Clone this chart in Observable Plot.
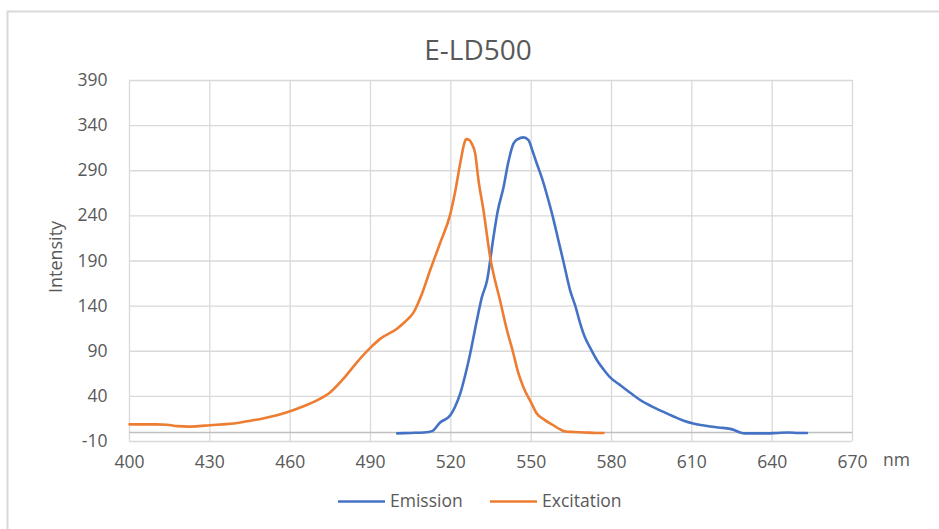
<!DOCTYPE html>
<html>
<head>
<meta charset="utf-8">
<script src="https://cdn.jsdelivr.net/npm/d3@7"></script>
<script src="https://cdn.jsdelivr.net/npm/@observablehq/plot@0.6"></script>
<style>
  html, body { margin: 0; padding: 0; background: #fff; }
  #chart { position: relative; width: 939px; height: 529px; overflow: hidden; }
</style>
</head>
<body>
<div id="chart"></div>
<script>
// ---- data ----
const title = "E-LD500";
const yLabel = "Intensity";
const xUnit = "nm";
const seriesNames = ["Emission", "Excitation"];
const seriesColors = ["#4472C4", "#ED7D31"];
const xTicks = [400, 430, 460, 490, 520, 550, 580, 610, 640, 670];
const yTicks = [-10, 40, 90, 140, 190, 240, 290, 340, 390];

const emissionNm = [500, 505, 510, 513, 516, 519.8, 521.5, 523.5, 525.5, 527.2, 529.7, 531.6, 533.5, 535.9, 537.5, 539.7, 541.5, 543.4, 545, 547.1, 549, 550.5, 552.1, 554, 556, 558, 560, 562, 564.6, 566.5, 568.3, 570, 572, 575, 577, 579.5, 583, 587, 590.7, 595, 600, 603, 607, 610.5, 615, 620, 624.3, 626, 628, 630, 634, 638, 642, 646, 650, 653];
const emissionVal = [-1, -0.5, 0, 1.5, 11, 19, 28, 43, 65, 87, 124, 150, 168, 216, 245, 272, 300, 320, 325, 327, 324, 312, 298, 282, 262, 240, 215, 190, 157, 140, 121, 106, 94, 78, 70, 61, 53, 44, 36, 29, 22, 18, 13, 10, 7.5, 5.5, 4, 2.5, 0, -1, -1, -1, -0.5, 0, -0.5, -0.5];

const excitationNm = [400, 405, 410, 414, 418, 422, 426, 430, 435, 439, 444, 449, 455, 460, 465, 470, 475, 480, 485, 490, 493.7, 499.9, 503, 506.1, 509, 512.3, 516, 519.8, 521.5, 523.5, 525, 525.7, 527, 527.8, 529.1, 530.3, 532.2, 534.7, 538.4, 541, 543.4, 545, 547.1, 550, 552.1, 555, 558.3, 560.5, 562.7, 566, 570, 574, 577];
const excitationVal = [9, 9, 9, 8.5, 7, 6.5, 7, 8, 9, 10, 12.5, 15, 19, 23.5, 29, 35.5, 44.7, 60, 78, 94, 104, 115, 123, 133, 152, 180, 210, 242, 265, 298, 320, 325, 324, 320, 309, 280, 246, 194, 146, 113, 87, 68, 50, 33, 21, 14, 8, 4, 1, 0.5, 0, -0.5, -0.5];

// ---- build tables ----
const emission = emissionNm.map((x, i) => ({x, y: emissionVal[i]}));
const excitation = excitationNm.map((x, i) => ({x, y: excitationVal[i]}));

const textColor = "#595959";
const gridColor = "#d9d9d9";
const font = "'Open Sans', 'Noto Sans', sans-serif";

const svg = Plot.plot({
  width: 939,
  height: 529,
  marginLeft: 129,
  marginRight: 87,
  marginTop: 80,
  marginBottom: 88,
  style: {fontFamily: font, fontSize: "17.5px", color: textColor, background: "transparent"},
  x: {domain: [400, 670], ticks: xTicks, label: null},
  y: {domain: [-10, 390], ticks: yTicks, label: null},
  marks: [
    Plot.gridX(xTicks, {stroke: gridColor, strokeOpacity: 1, strokeWidth: 1.3}),
    Plot.gridY(yTicks, {stroke: gridColor, strokeOpacity: 1, strokeWidth: 1.3}),
    Plot.ruleY([0], {stroke: "#bfbfbf", strokeWidth: 1.5}),
    Plot.axisX(xTicks, {tickSize: 0, tickPadding: 14, tickFormat: d => String(d), fill: textColor}),
    Plot.axisY(yTicks, {tickSize: 0, tickPadding: 22, tickFormat: d => String(d), fill: textColor}),
    Plot.line(emission, {x: "x", y: "y", stroke: seriesColors[0], strokeWidth: 2.6, curve: "monotone-x"}),
    Plot.line(excitation, {x: "x", y: "y", stroke: seriesColors[1], strokeWidth: 2.6, curve: "monotone-x"})
  ]
});

const s = d3.select(svg);
// chart area border
s.insert("rect", ":first-child")
  .attr("x", 7.5).attr("y", 11.5).attr("width", 960).attr("height", 560)
  .attr("fill", "#fff").attr("stroke", gridColor).attr("stroke-width", 2);

// title
s.append("text").text(title)
  .attr("x", 478).attr("y", 60).attr("text-anchor", "middle")
  .attr("font-family", font).attr("font-size", 28).attr("fill", textColor);

// y label
s.append("text").text(yLabel)
  .attr("transform", "translate(62,257) rotate(-90)").attr("text-anchor", "middle")
  .attr("font-family", font).attr("font-size", 18).attr("fill", textColor);

// x unit
s.append("text").text(xUnit)
  .attr("x", 883).attr("y", 466).attr("text-anchor", "start")
  .attr("font-family", font).attr("font-size", 17.5).attr("fill", textColor);

// legend
const legendPos = [{lx: 338, tx: 390}, {lx: 490, tx: 542}];
seriesNames.forEach((name, i) => {
  const p = legendPos[i];
  s.append("line").attr("x1", p.lx).attr("x2", p.lx + 47).attr("y1", 501.5).attr("y2", 501.5)
    .attr("stroke", seriesColors[i]).attr("stroke-width", 2.6);
  s.append("text").text(name).attr("x", p.tx).attr("y", 507).attr("text-anchor", "start")
    .attr("font-family", font).attr("font-size", 17.5).attr("fill", textColor);
});

document.getElementById("chart").appendChild(svg);
</script>
</body>
</html>
